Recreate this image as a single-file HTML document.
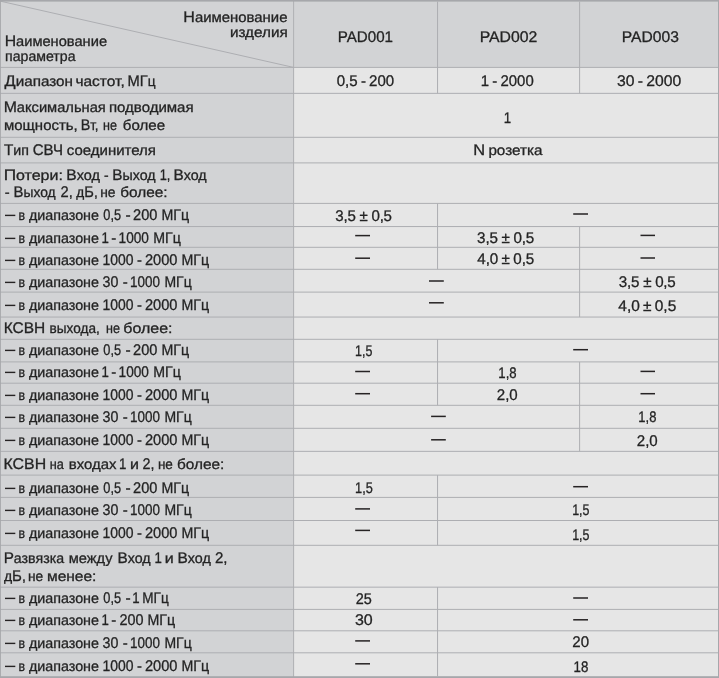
<!DOCTYPE html>
<html><head><meta charset="utf-8"><title>PAD001-003</title>
<style>
html,body{margin:0;padding:0}
body{width:719px;height:678px;overflow:hidden;background:#e6e6e6;font-family:"Liberation Sans",sans-serif}
#t{position:relative;width:719px;height:678px;background:#e6e6e6;overflow:hidden}
#t div,#t span,#t svg{position:absolute}
#x{left:0;top:0;width:719px;height:678px;filter:grayscale(1)}
.lc{left:0;width:293px;background:#d2d3d5}
.hd{left:294px;width:425px;background:#d2d3d5}
#t span{white-space:nowrap;color:#262324;transform-origin:0 0;text-rendering:geometricPrecision;-webkit-text-stroke:0.3px #262324}
.a{font-size:14.3px;line-height:14.3px}
.b{font-size:14.31px;line-height:14.31px}
.c{font-size:15.4px;line-height:15.4px}
#t i{font-style:normal;font-size:15.4px;line-height:0}
</style></head><body>
<div id="t">
<div class="lc" style="top:0;height:678px"></div>
<div class="hd" style="top:0;height:67px"></div>
<svg style="left:0;top:0" width="294" height="68"><line x1="0" y1="1.1" x2="293.5" y2="67.4" stroke="#adaeb2" stroke-width="1"/></svg>
<svg style="left:0;top:0" width="719" height="678">
<rect x="0" y="66.90" width="719" height="1" fill="#adaeb2"/>
<rect x="0" y="92.85" width="719" height="1" fill="#adaeb2"/>
<rect x="0" y="136.80" width="719" height="1" fill="#adaeb2"/>
<rect x="0" y="162.40" width="719" height="1" fill="#adaeb2"/>
<rect x="0" y="202.90" width="719" height="1" fill="#adaeb2"/>
<rect x="0" y="226.05" width="719" height="1" fill="#adaeb2"/>
<rect x="0" y="246.80" width="719" height="1" fill="#adaeb2"/>
<rect x="0" y="268.80" width="719" height="1" fill="#adaeb2"/>
<rect x="0" y="291.60" width="719" height="1" fill="#adaeb2"/>
<rect x="0" y="316.55" width="719" height="1" fill="#adaeb2"/>
<rect x="0" y="338.80" width="719" height="1" fill="#adaeb2"/>
<rect x="0" y="361.40" width="719" height="1" fill="#adaeb2"/>
<rect x="0" y="382.70" width="719" height="1" fill="#adaeb2"/>
<rect x="0" y="404.80" width="719" height="1" fill="#adaeb2"/>
<rect x="0" y="427.80" width="719" height="1" fill="#adaeb2"/>
<rect x="0" y="450.85" width="719" height="1" fill="#adaeb2"/>
<rect x="0" y="474.60" width="719" height="1" fill="#adaeb2"/>
<rect x="0" y="496.90" width="719" height="1" fill="#adaeb2"/>
<rect x="0" y="520.00" width="719" height="1" fill="#adaeb2"/>
<rect x="0" y="544.80" width="719" height="1" fill="#adaeb2"/>
<rect x="0" y="586.65" width="719" height="1" fill="#adaeb2"/>
<rect x="0" y="608.90" width="719" height="1" fill="#adaeb2"/>
<rect x="0" y="630.30" width="719" height="1" fill="#adaeb2"/>
<rect x="0" y="652.30" width="719" height="1" fill="#adaeb2"/>
<rect x="293.1" y="0" width="1" height="678" fill="#adaeb2"/>
<rect x="437.05" y="1.60" width="1" height="91.75" fill="#adaeb2"/>
<rect x="437.05" y="203.40" width="1" height="65.90" fill="#adaeb2"/>
<rect x="437.05" y="339.30" width="1" height="66.00" fill="#adaeb2"/>
<rect x="437.05" y="475.10" width="1" height="70.20" fill="#adaeb2"/>
<rect x="437.05" y="587.15" width="1" height="89.05" fill="#adaeb2"/>
<rect x="579.1" y="1.60" width="1" height="91.75" fill="#adaeb2"/>
<rect x="579.1" y="226.55" width="1" height="90.50" fill="#adaeb2"/>
<rect x="579.1" y="361.90" width="1" height="89.45" fill="#adaeb2"/>
<rect x="0" y="0" width="719" height="1.6" fill="#a6a7ab"/>
<rect x="0" y="676.2" width="719" height="1.8" fill="#a6a7ab"/>
<rect x="0" y="0" width="0.9" height="678" fill="#a6a7ab"/>
<rect x="718" y="0" width="1" height="678" fill="#a6a7ab"/>
</svg>
<div id="x">
<span class="b" style="left:183px;top:11px;letter-spacing:0;word-spacing:-1.000px;transform:translateX(0.29px) scaleX(1.0428)"><i>Н</i>аименование</span>
<span class="a" style="left:229px;top:26px;letter-spacing:0;word-spacing:-1.000px;transform:translateX(0.90px) scaleX(1.0675)">изделия</span>
<span class="b" style="left:4px;top:35px;letter-spacing:0;word-spacing:-1.000px;transform:translateX(0.68px) scaleX(1.0245)"><i>Н</i>аименование</span>
<span class="a" style="left:5px;top:50px;letter-spacing:0;word-spacing:-1.000px;transform:translateX(0.10px) scaleX(0.9865)">параметра</span>
<span class="c" style="left:337px;top:30px;letter-spacing:0;word-spacing:-1.000px;transform:translateX(0.72px) scaleX(0.9839)">PAD001</span>
<span class="c" style="left:479px;top:30px;letter-spacing:0;word-spacing:-1.000px;transform:translateX(0.64px) scaleX(1.0270)">PAD002</span>
<span class="c" style="left:621px;top:30px;letter-spacing:0;word-spacing:-1.000px;transform:translateX(0.83px) scaleX(1.0158)">PAD003</span>
<span class="b" style="left:4px;top:75px;letter-spacing:0;word-spacing:-1.000px;transform:translateX(0.52px) scaleX(1.0658)"><i>Д</i>иапазон</span>
<span class="a" style="left:75px;top:75px;letter-spacing:0;word-spacing:-1.000px;transform:translateX(0.44px) scaleX(1.0828)">частот,</span>
<span class="b" style="left:127px;top:75px;letter-spacing:0;word-spacing:-1.000px;transform:translateX(0.52px) scaleX(0.9543)"><i>МГ</i>ц</span>
<span class="c" style="left:336px;top:74px;letter-spacing:0;word-spacing:-1.000px;transform:translateX(0.74px) scaleX(0.9784)">0,5 - 200</span>
<span class="c" style="left:480px;top:74px;letter-spacing:0;word-spacing:-1.000px;transform:translateX(0.87px) scaleX(0.9694)">1 - 2000</span>
<span class="c" style="left:616px;top:74px;letter-spacing:0;word-spacing:-1.000px;transform:translateX(0.90px) scaleX(1.0212)">30 - 2000</span>
<span class="b" style="left:3px;top:101px;letter-spacing:0;word-spacing:-1.000px;transform:translateX(0.64px) scaleX(1.0270)"><i>М</i>аксимальная</span>
<span class="a" style="left:108px;top:101px;letter-spacing:0;word-spacing:-1.000px;transform:translateX(0.90px) scaleX(1.0504)">подводимая</span>
<span class="a" style="left:3px;top:119px;letter-spacing:0;word-spacing:-1.000px;transform:translateX(0.90px) scaleX(1.0478)">мощность,</span>
<span class="b" style="left:80px;top:119px;letter-spacing:0;word-spacing:-1.000px;transform:translateX(0.65px) scaleX(0.9316)"><i>В</i>т,</span>
<span class="a" style="left:103px;top:119px;letter-spacing:0;word-spacing:-1.000px;transform:translateX(0.04px) scaleX(0.8789)">не</span>
<span class="a" style="left:122px;top:119px;letter-spacing:0;word-spacing:-1.000px;transform:translateX(0.85px) scaleX(1.0558)">более</span>
<span class="c" style="left:503px;top:111px;letter-spacing:0;word-spacing:0;transform:translateX(0.75px) scaleX(0.8600)">1</span>
<span class="b" style="left:3px;top:144px;letter-spacing:0;word-spacing:-1.000px;transform:translateX(0.89px) scaleX(0.9924)"><i>Т</i>ип</span>
<span class="c" style="left:32px;top:143px;letter-spacing:0;word-spacing:-1.000px;transform:translateX(0.77px) scaleX(0.9755)">СВЧ</span>
<span class="a" style="left:66px;top:144px;letter-spacing:0;word-spacing:-1.000px;transform:translateX(0.77px) scaleX(1.0487)">соединителя</span>
<span class="b" style="left:473px;top:144px;letter-spacing:0;word-spacing:-1.000px;transform:translateX(0.37px) scaleX(1.0651)"><i>N</i> розетка</span>
<span class="b" style="left:3px;top:169px;letter-spacing:0;word-spacing:-1.000px;transform:translateX(0.64px) scaleX(1.1188)"><i>П</i>отери:</span>
<span class="b" style="left:66px;top:169px;letter-spacing:0;word-spacing:-1.000px;transform:translateX(0.34px) scaleX(1.0151)"><i>В</i>ход</span>
<span class="a" style="left:103px;top:169px;letter-spacing:0;word-spacing:0;transform:translateX(0.97px) scaleX(0.9681)">-</span>
<span class="b" style="left:112px;top:169px;letter-spacing:0;word-spacing:-1.000px;transform:translateX(0.35px) scaleX(0.9944)"><i>В</i>ыход</span>
<span class="c" style="left:159px;top:168px;letter-spacing:0;word-spacing:-1.000px;transform:translateX(0.63px) scaleX(0.8301)">1,</span>
<span class="b" style="left:173px;top:169px;letter-spacing:0;word-spacing:-1.000px;transform:translateX(0.51px) scaleX(0.9968)"><i>В</i>ход</span>
<span class="a" style="left:4px;top:186px;letter-spacing:0;word-spacing:0;transform:translateX(0.74px) scaleX(1.0349)">-</span>
<span class="b" style="left:13px;top:186px;letter-spacing:0;word-spacing:-1.000px;transform:translateX(0.53px) scaleX(0.9690)"><i>В</i>ыход</span>
<span class="c" style="left:60px;top:185px;letter-spacing:0;word-spacing:-1.000px;transform:translateX(0.55px) scaleX(0.9525)">2,</span>
<span class="b" style="left:76px;top:186px;letter-spacing:0;word-spacing:-1.000px;transform:translateX(0.28px) scaleX(0.9545)">д<i>Б</i>,</span>
<span class="a" style="left:100px;top:186px;letter-spacing:0;word-spacing:-1.000px;transform:translateX(0.22px) scaleX(0.9659)">не</span>
<span class="a" style="left:120px;top:186px;letter-spacing:0;word-spacing:-1.000px;transform:translateX(0.26px) scaleX(1.0752)">более:</span>
<span class="a" style="left:18px;top:209px;letter-spacing:0;word-spacing:0;transform:translateX(0.41px) scaleX(0.8600)">в</span>
<span class="a" style="left:28px;top:209px;letter-spacing:0;word-spacing:-1.000px;transform:translateX(0.90px) scaleX(1.0006)">диапазоне</span>
<span class="c" style="left:103px;top:208px;letter-spacing:0;word-spacing:-1.000px;transform:translateX(0.26px) scaleX(0.8320)">0,5</span>
<span class="c" style="left:125px;top:208px;letter-spacing:0;word-spacing:0;transform:translateX(0.57px) scaleX(1.0163)">-</span>
<span class="c" style="left:133px;top:208px;letter-spacing:0;word-spacing:-1.000px;transform:translateX(0.02px) scaleX(0.9482)">200</span>
<span class="c" style="left:161px;top:208px;letter-spacing:0;word-spacing:-1.000px;transform:translateX(0.38px) scaleX(0.9216)">МГц</span>
<span class="a" style="left:18px;top:232px;letter-spacing:0;word-spacing:0;transform:translateX(0.41px) scaleX(0.8600)">в</span>
<span class="a" style="left:28px;top:232px;letter-spacing:0;word-spacing:-1.000px;transform:translateX(0.90px) scaleX(1.0006)">диапазоне</span>
<span class="c" style="left:101px;top:231px;letter-spacing:0;word-spacing:0;transform:translateX(0.47px) scaleX(0.8600)">1</span>
<span class="c" style="left:111px;top:231px;letter-spacing:0;word-spacing:0;transform:translateX(0.33px) scaleX(0.9749)">-</span>
<span class="c" style="left:118px;top:231px;letter-spacing:0;word-spacing:-1.000px;transform:translateX(0.57px) scaleX(0.8870)">1000</span>
<span class="c" style="left:153px;top:231px;letter-spacing:0;word-spacing:-1.000px;transform:translateX(0.31px) scaleX(0.9208)">МГц</span>
<span class="a" style="left:18px;top:254px;letter-spacing:0;word-spacing:0;transform:translateX(0.41px) scaleX(0.8600)">в</span>
<span class="a" style="left:28px;top:254px;letter-spacing:0;word-spacing:-1.000px;transform:translateX(0.90px) scaleX(1.0006)">диапазоне</span>
<span class="c" style="left:102px;top:253px;letter-spacing:0;word-spacing:-1.000px;transform:translateX(0.41px) scaleX(0.9062)">1000</span>
<span class="c" style="left:137px;top:253px;letter-spacing:0;word-spacing:0;transform:translateX(0.11px) scaleX(0.9616)">-</span>
<span class="c" style="left:144px;top:253px;letter-spacing:0;word-spacing:-1.000px;transform:translateX(0.90px) scaleX(0.9516)">2000</span>
<span class="c" style="left:181px;top:253px;letter-spacing:0;word-spacing:-1.000px;transform:translateX(0.50px) scaleX(0.9214)">МГц</span>
<span class="a" style="left:18px;top:276px;letter-spacing:0;word-spacing:0;transform:translateX(0.41px) scaleX(0.8600)">в</span>
<span class="a" style="left:28px;top:276px;letter-spacing:0;word-spacing:-1.000px;transform:translateX(0.90px) scaleX(1.0006)">диапазоне</span>
<span class="c" style="left:102px;top:275px;letter-spacing:0;word-spacing:-1.000px;transform:translateX(0.60px) scaleX(0.9253)">30</span>
<span class="c" style="left:122px;top:275px;letter-spacing:0;word-spacing:0;transform:translateX(0.80px) scaleX(0.9791)">-</span>
<span class="c" style="left:129px;top:275px;letter-spacing:0;word-spacing:-1.000px;transform:translateX(0.96px) scaleX(0.8747)">1000</span>
<span class="c" style="left:164px;top:275px;letter-spacing:0;word-spacing:-1.000px;transform:translateX(0.47px) scaleX(0.9090)">МГц</span>
<span class="a" style="left:18px;top:299px;letter-spacing:0;word-spacing:0;transform:translateX(0.41px) scaleX(0.8600)">в</span>
<span class="a" style="left:28px;top:299px;letter-spacing:0;word-spacing:-1.000px;transform:translateX(0.90px) scaleX(1.0006)">диапазоне</span>
<span class="c" style="left:102px;top:298px;letter-spacing:0;word-spacing:-1.000px;transform:translateX(0.41px) scaleX(0.9062)">1000</span>
<span class="c" style="left:137px;top:298px;letter-spacing:0;word-spacing:0;transform:translateX(0.11px) scaleX(0.9616)">-</span>
<span class="c" style="left:144px;top:298px;letter-spacing:0;word-spacing:-1.000px;transform:translateX(0.90px) scaleX(0.9516)">2000</span>
<span class="c" style="left:181px;top:298px;letter-spacing:0;word-spacing:-1.000px;transform:translateX(0.50px) scaleX(0.9214)">МГц</span>
<span class="c" style="left:3px;top:321px;letter-spacing:0;word-spacing:-1.000px;transform:translateX(0.65px) scaleX(1.0063)">КСВН</span>
<span class="a" style="left:49px;top:322px;letter-spacing:0;word-spacing:-1.000px;transform:translateX(0.60px) scaleX(0.9499)">выхода,</span>
<span class="a" style="left:106px;top:322px;letter-spacing:0;word-spacing:-1.000px;transform:translateX(0.04px) scaleX(0.8789)">не</span>
<span class="a" style="left:123px;top:322px;letter-spacing:0;word-spacing:-1.000px;transform:translateX(0.27px) scaleX(1.1180)">более:</span>
<span class="a" style="left:18px;top:344px;letter-spacing:0;word-spacing:0;transform:translateX(0.41px) scaleX(0.8600)">в</span>
<span class="a" style="left:28px;top:344px;letter-spacing:0;word-spacing:-1.000px;transform:translateX(0.90px) scaleX(1.0006)">диапазоне</span>
<span class="c" style="left:103px;top:343px;letter-spacing:0;word-spacing:-1.000px;transform:translateX(0.26px) scaleX(0.8320)">0,5</span>
<span class="c" style="left:125px;top:343px;letter-spacing:0;word-spacing:0;transform:translateX(0.57px) scaleX(1.0163)">-</span>
<span class="c" style="left:133px;top:343px;letter-spacing:0;word-spacing:-1.000px;transform:translateX(0.02px) scaleX(0.9482)">200</span>
<span class="c" style="left:161px;top:343px;letter-spacing:0;word-spacing:-1.000px;transform:translateX(0.38px) scaleX(0.9216)">МГц</span>
<span class="a" style="left:18px;top:366px;letter-spacing:0;word-spacing:0;transform:translateX(0.41px) scaleX(0.8600)">в</span>
<span class="a" style="left:28px;top:366px;letter-spacing:0;word-spacing:-1.000px;transform:translateX(0.90px) scaleX(1.0006)">диапазоне</span>
<span class="c" style="left:101px;top:365px;letter-spacing:0;word-spacing:0;transform:translateX(0.47px) scaleX(0.8600)">1</span>
<span class="c" style="left:111px;top:365px;letter-spacing:0;word-spacing:0;transform:translateX(0.33px) scaleX(0.9749)">-</span>
<span class="c" style="left:118px;top:365px;letter-spacing:0;word-spacing:-1.000px;transform:translateX(0.57px) scaleX(0.8870)">1000</span>
<span class="c" style="left:153px;top:365px;letter-spacing:0;word-spacing:-1.000px;transform:translateX(0.31px) scaleX(0.9208)">МГц</span>
<span class="a" style="left:18px;top:389px;letter-spacing:0;word-spacing:0;transform:translateX(0.41px) scaleX(0.8600)">в</span>
<span class="a" style="left:28px;top:389px;letter-spacing:0;word-spacing:-1.000px;transform:translateX(0.90px) scaleX(1.0006)">диапазоне</span>
<span class="c" style="left:102px;top:388px;letter-spacing:0;word-spacing:-1.000px;transform:translateX(0.41px) scaleX(0.9062)">1000</span>
<span class="c" style="left:137px;top:388px;letter-spacing:0;word-spacing:0;transform:translateX(0.11px) scaleX(0.9616)">-</span>
<span class="c" style="left:144px;top:388px;letter-spacing:0;word-spacing:-1.000px;transform:translateX(0.90px) scaleX(0.9516)">2000</span>
<span class="c" style="left:181px;top:388px;letter-spacing:0;word-spacing:-1.000px;transform:translateX(0.50px) scaleX(0.9214)">МГц</span>
<span class="a" style="left:18px;top:411px;letter-spacing:0;word-spacing:0;transform:translateX(0.41px) scaleX(0.8600)">в</span>
<span class="a" style="left:28px;top:411px;letter-spacing:0;word-spacing:-1.000px;transform:translateX(0.90px) scaleX(1.0006)">диапазоне</span>
<span class="c" style="left:102px;top:410px;letter-spacing:0;word-spacing:-1.000px;transform:translateX(0.60px) scaleX(0.9253)">30</span>
<span class="c" style="left:122px;top:410px;letter-spacing:0;word-spacing:0;transform:translateX(0.80px) scaleX(0.9791)">-</span>
<span class="c" style="left:129px;top:410px;letter-spacing:0;word-spacing:-1.000px;transform:translateX(0.96px) scaleX(0.8747)">1000</span>
<span class="c" style="left:164px;top:410px;letter-spacing:0;word-spacing:-1.000px;transform:translateX(0.47px) scaleX(0.9090)">МГц</span>
<span class="a" style="left:18px;top:434px;letter-spacing:0;word-spacing:0;transform:translateX(0.41px) scaleX(0.8600)">в</span>
<span class="a" style="left:28px;top:434px;letter-spacing:0;word-spacing:-1.000px;transform:translateX(0.90px) scaleX(1.0006)">диапазоне</span>
<span class="c" style="left:102px;top:433px;letter-spacing:0;word-spacing:-1.000px;transform:translateX(0.41px) scaleX(0.9062)">1000</span>
<span class="c" style="left:137px;top:433px;letter-spacing:0;word-spacing:0;transform:translateX(0.11px) scaleX(0.9616)">-</span>
<span class="c" style="left:144px;top:433px;letter-spacing:0;word-spacing:-1.000px;transform:translateX(0.90px) scaleX(0.9516)">2000</span>
<span class="c" style="left:181px;top:433px;letter-spacing:0;word-spacing:-1.000px;transform:translateX(0.50px) scaleX(0.9214)">МГц</span>
<span class="c" style="left:3px;top:457px;letter-spacing:0;word-spacing:-1.000px;transform:translateX(0.54px) scaleX(1.0311)">КСВН</span>
<span class="a" style="left:49px;top:458px;letter-spacing:0;word-spacing:-1.000px;transform:translateX(0.72px) scaleX(0.8894)">на</span>
<span class="a" style="left:68px;top:458px;letter-spacing:0;word-spacing:-1.000px;transform:translateX(0.71px) scaleX(1.0443)">входах</span>
<span class="c" style="left:118px;top:457px;letter-spacing:0;word-spacing:0;transform:translateX(0.93px) scaleX(0.8600)">1</span>
<span class="a" style="left:130px;top:458px;letter-spacing:0;word-spacing:0;transform:translateX(0.08px) scaleX(1.1200)">и</span>
<span class="c" style="left:142px;top:457px;letter-spacing:0;word-spacing:-1.000px;transform:translateX(0.57px) scaleX(0.9294)">2,</span>
<span class="a" style="left:157px;top:458px;letter-spacing:0;word-spacing:-1.000px;transform:translateX(0.89px) scaleX(0.9459)">не</span>
<span class="a" style="left:176px;top:458px;letter-spacing:0;word-spacing:-1.000px;transform:translateX(0.93px) scaleX(1.0770)">более:</span>
<span class="a" style="left:18px;top:482px;letter-spacing:0;word-spacing:0;transform:translateX(0.41px) scaleX(0.8600)">в</span>
<span class="a" style="left:28px;top:482px;letter-spacing:0;word-spacing:-1.000px;transform:translateX(0.90px) scaleX(1.0006)">диапазоне</span>
<span class="c" style="left:103px;top:481px;letter-spacing:0;word-spacing:-1.000px;transform:translateX(0.26px) scaleX(0.8320)">0,5</span>
<span class="c" style="left:125px;top:481px;letter-spacing:0;word-spacing:0;transform:translateX(0.57px) scaleX(1.0163)">-</span>
<span class="c" style="left:133px;top:481px;letter-spacing:0;word-spacing:-1.000px;transform:translateX(0.02px) scaleX(0.9482)">200</span>
<span class="c" style="left:161px;top:481px;letter-spacing:0;word-spacing:-1.000px;transform:translateX(0.38px) scaleX(0.9216)">МГц</span>
<span class="a" style="left:18px;top:504px;letter-spacing:0;word-spacing:0;transform:translateX(0.41px) scaleX(0.8600)">в</span>
<span class="a" style="left:28px;top:504px;letter-spacing:0;word-spacing:-1.000px;transform:translateX(0.90px) scaleX(1.0006)">диапазоне</span>
<span class="c" style="left:102px;top:503px;letter-spacing:0;word-spacing:-1.000px;transform:translateX(0.60px) scaleX(0.9253)">30</span>
<span class="c" style="left:122px;top:503px;letter-spacing:0;word-spacing:0;transform:translateX(0.80px) scaleX(0.9791)">-</span>
<span class="c" style="left:129px;top:503px;letter-spacing:0;word-spacing:-1.000px;transform:translateX(0.96px) scaleX(0.8747)">1000</span>
<span class="c" style="left:164px;top:503px;letter-spacing:0;word-spacing:-1.000px;transform:translateX(0.47px) scaleX(0.9090)">МГц</span>
<span class="a" style="left:18px;top:527px;letter-spacing:0;word-spacing:0;transform:translateX(0.41px) scaleX(0.8600)">в</span>
<span class="a" style="left:28px;top:527px;letter-spacing:0;word-spacing:-1.000px;transform:translateX(0.90px) scaleX(1.0006)">диапазоне</span>
<span class="c" style="left:102px;top:526px;letter-spacing:0;word-spacing:-1.000px;transform:translateX(0.41px) scaleX(0.9062)">1000</span>
<span class="c" style="left:137px;top:526px;letter-spacing:0;word-spacing:0;transform:translateX(0.11px) scaleX(0.9616)">-</span>
<span class="c" style="left:144px;top:526px;letter-spacing:0;word-spacing:-1.000px;transform:translateX(0.90px) scaleX(0.9516)">2000</span>
<span class="c" style="left:181px;top:526px;letter-spacing:0;word-spacing:-1.000px;transform:translateX(0.50px) scaleX(0.9214)">МГц</span>
<span class="b" style="left:3px;top:552px;letter-spacing:0;word-spacing:-1.000px;transform:translateX(0.66px) scaleX(0.9919)"><i>Р</i>азвязка</span>
<span class="a" style="left:68px;top:552px;letter-spacing:0;word-spacing:-1.000px;transform:translateX(0.79px) scaleX(1.0229)">между</span>
<span class="b" style="left:117px;top:552px;letter-spacing:0;word-spacing:-1.000px;transform:translateX(0.48px) scaleX(0.9966)"><i>В</i>ход</span>
<span class="c" style="left:154px;top:551px;letter-spacing:0;word-spacing:0;transform:translateX(0.47px) scaleX(0.8600)">1</span>
<span class="a" style="left:164px;top:552px;letter-spacing:0;word-spacing:0;transform:translateX(0.65px) scaleX(1.1200)">и</span>
<span class="b" style="left:177px;top:552px;letter-spacing:0;word-spacing:-1.000px;transform:translateX(0.52px) scaleX(1.0041)"><i>В</i>ход</span>
<span class="c" style="left:214px;top:551px;letter-spacing:0;word-spacing:-1.000px;transform:translateX(0.90px) scaleX(0.9788)">2,</span>
<span class="b" style="left:3px;top:570px;letter-spacing:0;word-spacing:-1.000px;transform:translateX(0.91px) scaleX(0.9777)">д<i>Б</i>,</span>
<span class="a" style="left:28px;top:570px;letter-spacing:0;word-spacing:-1.000px;transform:translateX(0.04px) scaleX(0.9594)">не</span>
<span class="a" style="left:46px;top:570px;letter-spacing:0;word-spacing:-1.000px;transform:translateX(0.98px) scaleX(1.0856)">менее:</span>
<span class="a" style="left:18px;top:592px;letter-spacing:0;word-spacing:0;transform:translateX(0.41px) scaleX(0.8600)">в</span>
<span class="a" style="left:28px;top:592px;letter-spacing:0;word-spacing:-1.000px;transform:translateX(0.90px) scaleX(1.0006)">диапазоне</span>
<span class="c" style="left:103px;top:591px;letter-spacing:0;word-spacing:-1.000px;transform:translateX(0.26px) scaleX(0.8320)">0,5</span>
<span class="c" style="left:125px;top:591px;letter-spacing:0;word-spacing:0;transform:translateX(0.57px) scaleX(1.0163)">-</span>
<span class="c" style="left:132px;top:591px;letter-spacing:0;word-spacing:0;transform:translateX(0.26px) scaleX(0.8600)">1</span>
<span class="c" style="left:142px;top:591px;letter-spacing:0;word-spacing:-1.000px;transform:translateX(0.30px) scaleX(0.8799)">МГц</span>
<span class="a" style="left:18px;top:614px;letter-spacing:0;word-spacing:0;transform:translateX(0.41px) scaleX(0.8600)">в</span>
<span class="a" style="left:28px;top:614px;letter-spacing:0;word-spacing:-1.000px;transform:translateX(0.90px) scaleX(1.0006)">диапазоне</span>
<span class="c" style="left:101px;top:613px;letter-spacing:0;word-spacing:0;transform:translateX(0.47px) scaleX(0.8600)">1</span>
<span class="c" style="left:111px;top:613px;letter-spacing:0;word-spacing:0;transform:translateX(0.33px) scaleX(0.9749)">-</span>
<span class="c" style="left:119px;top:613px;letter-spacing:0;word-spacing:-1.000px;transform:translateX(0.41px) scaleX(0.9352)">200</span>
<span class="c" style="left:147px;top:613px;letter-spacing:0;word-spacing:-1.000px;transform:translateX(0.44px) scaleX(0.9239)">МГц</span>
<span class="a" style="left:18px;top:637px;letter-spacing:0;word-spacing:0;transform:translateX(0.41px) scaleX(0.8600)">в</span>
<span class="a" style="left:28px;top:637px;letter-spacing:0;word-spacing:-1.000px;transform:translateX(0.90px) scaleX(1.0006)">диапазоне</span>
<span class="c" style="left:102px;top:636px;letter-spacing:0;word-spacing:-1.000px;transform:translateX(0.60px) scaleX(0.9253)">30</span>
<span class="c" style="left:122px;top:636px;letter-spacing:0;word-spacing:0;transform:translateX(0.80px) scaleX(0.9791)">-</span>
<span class="c" style="left:129px;top:636px;letter-spacing:0;word-spacing:-1.000px;transform:translateX(0.96px) scaleX(0.8747)">1000</span>
<span class="c" style="left:164px;top:636px;letter-spacing:0;word-spacing:-1.000px;transform:translateX(0.47px) scaleX(0.9090)">МГц</span>
<span class="a" style="left:18px;top:660px;letter-spacing:0;word-spacing:0;transform:translateX(0.41px) scaleX(0.8600)">в</span>
<span class="a" style="left:28px;top:660px;letter-spacing:0;word-spacing:-1.000px;transform:translateX(0.90px) scaleX(1.0006)">диапазоне</span>
<span class="c" style="left:102px;top:659px;letter-spacing:0;word-spacing:-1.000px;transform:translateX(0.41px) scaleX(0.9062)">1000</span>
<span class="c" style="left:137px;top:659px;letter-spacing:0;word-spacing:0;transform:translateX(0.11px) scaleX(0.9616)">-</span>
<span class="c" style="left:144px;top:659px;letter-spacing:0;word-spacing:-1.000px;transform:translateX(0.90px) scaleX(0.9516)">2000</span>
<span class="c" style="left:181px;top:659px;letter-spacing:0;word-spacing:-1.000px;transform:translateX(0.50px) scaleX(0.9214)">МГц</span>
<span class="c" style="left:335px;top:209px;letter-spacing:-0.242px;word-spacing:-0.034px;transform:translateX(0.35px) scaleX(0.9801)">3,5 ± 0,5</span>
<span class="c" style="left:477px;top:231px;letter-spacing:-0.149px;word-spacing:-0.404px;transform:translateX(0.08px) scaleX(0.9896)">3,5 ± 0,5</span>
<span class="c" style="left:477px;top:252px;letter-spacing:-0.053px;word-spacing:-0.788px;transform:translateX(0.25px) scaleX(0.9869)">4,0 ± 0,5</span>
<span class="c" style="left:618px;top:275px;letter-spacing:-0.242px;word-spacing:-0.034px;transform:translateX(0.84px) scaleX(0.9846)">3,5 ± 0,5</span>
<span class="c" style="left:618px;top:299px;letter-spacing:0.105px;word-spacing:-1.418px;transform:translateX(0.23px) scaleX(1.0063)">4,0 ± 0,5</span>
<span class="c" style="left:355px;top:344px;letter-spacing:0;word-spacing:-1.000px;transform:translateX(0.12px) scaleX(0.8095)">1,5</span>
<span class="c" style="left:498px;top:366px;letter-spacing:0;word-spacing:-1.000px;transform:translateX(0.33px) scaleX(0.8548)">1,8</span>
<span class="c" style="left:496px;top:388px;letter-spacing:0;word-spacing:-1.000px;transform:translateX(0.80px) scaleX(0.9786)">2,0</span>
<span class="c" style="left:638px;top:410px;letter-spacing:0;word-spacing:-1.000px;transform:translateX(0.31px) scaleX(0.8429)">1,8</span>
<span class="c" style="left:636px;top:434px;letter-spacing:0;word-spacing:-1.000px;transform:translateX(0.78px) scaleX(0.9800)">2,0</span>
<span class="c" style="left:355px;top:481px;letter-spacing:0;word-spacing:-1.000px;transform:translateX(0.11px) scaleX(0.8278)">1,5</span>
<span class="c" style="left:572px;top:503px;letter-spacing:0;word-spacing:-1.000px;transform:translateX(0.15px) scaleX(0.8105)">1,5</span>
<span class="c" style="left:572px;top:528px;letter-spacing:0;word-spacing:-1.000px;transform:translateX(0.15px) scaleX(0.8105)">1,5</span>
<span class="c" style="left:355px;top:592px;letter-spacing:0;word-spacing:-1.000px;transform:translateX(0.65px) scaleX(0.9372)">25</span>
<span class="c" style="left:354px;top:613px;letter-spacing:0;word-spacing:-1.000px;transform:translateX(0.92px) scaleX(1.0397)">30</span>
<span class="c" style="left:572px;top:635px;letter-spacing:0;word-spacing:-1.000px;transform:translateX(0.27px) scaleX(0.9784)">20</span>
<span class="c" style="left:573px;top:660px;letter-spacing:0;word-spacing:-1.000px;transform:translateX(0.60px) scaleX(0.8657)">18</span>
</div>
<svg style="left:0;top:0" width="719" height="678">
<rect x="5.00" y="214.70" width="10.30" height="1.40" fill="#262324"/>
<rect x="5.00" y="237.70" width="10.30" height="1.40" fill="#262324"/>
<rect x="5.00" y="259.70" width="10.30" height="1.40" fill="#262324"/>
<rect x="5.00" y="281.70" width="10.30" height="1.40" fill="#262324"/>
<rect x="5.00" y="304.70" width="10.30" height="1.40" fill="#262324"/>
<rect x="5.00" y="349.70" width="10.30" height="1.40" fill="#262324"/>
<rect x="5.00" y="371.70" width="10.30" height="1.40" fill="#262324"/>
<rect x="5.00" y="394.70" width="10.30" height="1.40" fill="#262324"/>
<rect x="5.00" y="416.70" width="10.30" height="1.40" fill="#262324"/>
<rect x="5.00" y="439.70" width="10.30" height="1.40" fill="#262324"/>
<rect x="5.00" y="487.70" width="10.30" height="1.40" fill="#262324"/>
<rect x="5.00" y="509.70" width="10.30" height="1.40" fill="#262324"/>
<rect x="5.00" y="532.70" width="10.30" height="1.40" fill="#262324"/>
<rect x="5.00" y="597.70" width="10.30" height="1.40" fill="#262324"/>
<rect x="5.00" y="619.70" width="10.30" height="1.40" fill="#262324"/>
<rect x="5.00" y="642.70" width="10.30" height="1.40" fill="#262324"/>
<rect x="5.00" y="665.70" width="10.30" height="1.40" fill="#262324"/>
<rect x="355.20" y="234.85" width="14.80" height="1.50" fill="#262324"/>
<rect x="355.20" y="257.45" width="14.80" height="1.50" fill="#262324"/>
<rect x="355.20" y="370.75" width="14.80" height="1.50" fill="#262324"/>
<rect x="355.20" y="392.95" width="14.80" height="1.50" fill="#262324"/>
<rect x="355.20" y="508.15" width="14.80" height="1.50" fill="#262324"/>
<rect x="355.20" y="529.65" width="14.80" height="1.50" fill="#262324"/>
<rect x="355.20" y="640.15" width="14.80" height="1.50" fill="#262324"/>
<rect x="355.20" y="663.05" width="14.80" height="1.50" fill="#262324"/>
<rect x="429.00" y="280.25" width="14.80" height="1.50" fill="#262324"/>
<rect x="429.00" y="302.05" width="14.80" height="1.50" fill="#262324"/>
<rect x="431.10" y="415.65" width="14.70" height="1.50" fill="#262324"/>
<rect x="431.10" y="439.05" width="14.70" height="1.50" fill="#262324"/>
<rect x="573.20" y="213.25" width="14.80" height="1.50" fill="#262324"/>
<rect x="573.20" y="348.95" width="14.80" height="1.50" fill="#262324"/>
<rect x="573.20" y="485.95" width="14.80" height="1.50" fill="#262324"/>
<rect x="573.20" y="597.25" width="14.80" height="1.50" fill="#262324"/>
<rect x="573.20" y="619.05" width="14.80" height="1.50" fill="#262324"/>
<rect x="640.50" y="234.65" width="14.50" height="1.50" fill="#262324"/>
<rect x="640.50" y="257.25" width="14.50" height="1.50" fill="#262324"/>
<rect x="640.50" y="370.65" width="14.50" height="1.50" fill="#262324"/>
<rect x="640.50" y="392.95" width="14.50" height="1.50" fill="#262324"/>
</svg>
</div>
</body></html>
